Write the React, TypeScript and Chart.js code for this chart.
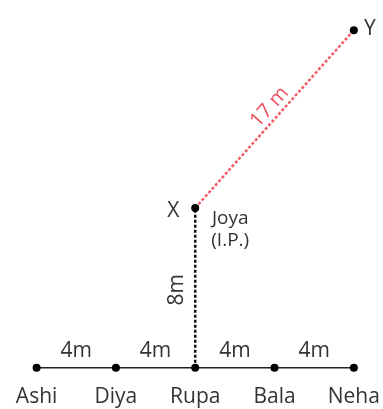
import React, { useEffect, useRef } from "react";
import { Chart, registerables } from "chart.js";

Chart.register(...registerables);

// Data
const people = ["Ashi", "Diya", "Rupa", "Bala", "Neha"];
const rowX = [-8, -4, 0, 4, 8];
const rowY = [0, 0, 0, 0, 0];
const gapLabels = ["4m", "4m", "4m", "4m"];
const joyaPoint = { x: 0, y: 8 };
const yPoint = { x: 8, y: 16.9 };
const joyaName = "X";
const yName = "Y";
const joyaLabel = ["Joya", "(I.P.)"];
const verticalLabel = "8m";
const diagonalLabel = "17 m";

const FONT = "'Open Sans', 'Noto Sans', sans-serif";
const TEXT = "#333333";
const RED = "#f25c66";

const labelPlugin = {
  id: "diagramLabels",
  afterDatasetsDraw(chart: any) {
    const { ctx, scales } = chart;
    const xs = scales.x;
    const ys = scales.y;
    ctx.save();
    ctx.fillStyle = TEXT;
    ctx.textAlign = "center";
    ctx.textBaseline = "middle";
    // names
    ctx.font = `21px ${FONT}`;
    people.forEach((p, i) => {
      ctx.fillText(p, xs.getPixelForValue(rowX[i]), ys.getPixelForValue(rowY[i]) + 29);
    });
    // gap labels
    ctx.font = `21px ${FONT}`;
    gapLabels.forEach((g, i) => {
      const mx = (xs.getPixelForValue(rowX[i]) + xs.getPixelForValue(rowX[i + 1])) / 2;
      ctx.fillText(g, mx, ys.getPixelForValue(rowY[i]) - 17);
    });
    // X and Y
    const jx = xs.getPixelForValue(joyaPoint.x);
    const jy = ys.getPixelForValue(joyaPoint.y);
    const yx = xs.getPixelForValue(yPoint.x);
    const yy = ys.getPixelForValue(yPoint.y);
    ctx.font = `21px ${FONT}`;
    ctx.fillText(joyaName, jx - 22, jy + 3);
    ctx.fillText(yName, yx + 16, yy - 1);
    // Joya (I.P.)
    ctx.font = `19px ${FONT}`;
    ctx.fillText(joyaLabel[0], jx + 35, jy + 11);
    ctx.fillText(joyaLabel[1], jx + 35, jy + 33);
    // 8m rotated
    const midV = (ys.getPixelForValue(0) + jy) / 2;
    ctx.save();
    ctx.translate(jx - 18, midV + 2);
    ctx.rotate(-Math.PI / 2);
    ctx.font = `21px ${FONT}`;
    ctx.fillText(verticalLabel, 0, 0);
    ctx.restore();
    // 17 m rotated
    const ang = Math.atan2(yy - jy, yx - jx);
    const mx = (jx + yx) / 2;
    const my = (jy + yy) / 2;
    ctx.save();
    ctx.translate(mx - 5, my - 12);
    ctx.rotate(ang);
    ctx.fillStyle = "#ee4d5a";
    ctx.font = `20px ${FONT}`;
    ctx.fillText(diagonalLabel, 0, 0);
    ctx.restore();
    ctx.restore();
  },
};

export default function App() {
  const ref = useRef<HTMLCanvasElement>(null);
  useEffect(() => {
    if (!ref.current) return;
    const chart = new Chart(ref.current, {
      type: "scatter",
      data: {
        datasets: [
          {
            data: [joyaPoint, yPoint],
            pointRadius: 4,
            pointBackgroundColor: "#000",
            pointBorderWidth: 0,
            showLine: false,
          },
          {
            data: rowX.map((x, i) => ({ x, y: rowY[i] })),
            showLine: true,
            borderColor: "#222",
            borderWidth: 1.3,
            pointRadius: 4,
            pointBackgroundColor: "#000",
            pointBorderWidth: 0,
          },
          {
            data: [{ x: rowX[2], y: rowY[2] }, joyaPoint],
            showLine: true,
            borderColor: "#111",
            borderWidth: 2.5,
            borderDash: [3, 2],
            pointRadius: 0,
          },
          {
            data: [joyaPoint, yPoint],
            showLine: true,
            borderColor: RED,
            borderWidth: 2.5,
            borderDash: [3, 2],
            pointRadius: 0,
          },
        ],
      },
      options: {
        responsive: false,
        animation: false,
        layout: { padding: 0 },
        plugins: { legend: { display: false }, tooltip: { enabled: false } },
        scales: {
          x: { type: "linear", display: false, min: -9.644, max: 9.269 },
          y: { type: "linear", display: false, min: -1.865, max: 18.21 },
        },
      },
      plugins: [labelPlugin],
    });
    return () => chart.destroy();
  }, []);
  return (
    <div style={{ position: "absolute", left: 0, top: 0, width: 383, height: 409, background: "#fff" }}>
      <canvas ref={ref} width={383} height={409} style={{ display: "block" }} />
    </div>
  );
}
